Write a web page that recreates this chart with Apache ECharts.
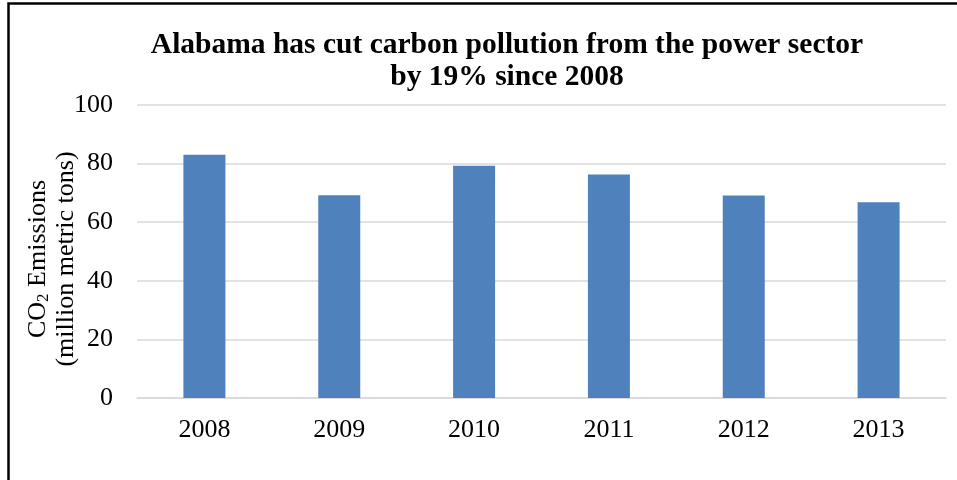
<!DOCTYPE html>
<html>
<head>
<meta charset="utf-8">
<script src="https://cdn.jsdelivr.net/npm/echarts@6/dist/echarts.min.js"></script>
<style>
html,body{margin:0;padding:0;background:#fff;}
#main{width:957px;height:480px;}
</style>
</head>
<body>
<div id="main"></div>
<script>
var categories = ['2008', '2009', '2010', '2011', '2012', '2013'];
var emissions = [83.0, 69.2, 79.3, 76.3, 69.1, 66.8];
var titleLines = ['Alabama has cut carbon pollution from the power sector', 'by 19% since 2008'];

var serif = "'Liberation Serif', 'Times New Roman', serif";
var chart = echarts.init(document.getElementById('main'));
chart.setOption({
  backgroundColor: '#fff',
  animation: false,
  title: {
    text: titleLines.join('\n'),
    left: 502,
    top: 24,
    textAlign: 'center',
    textStyle: {
      fontFamily: serif,
      fontWeight: 'bold',
      fontSize: 29.5,
      lineHeight: 32,
      color: '#000'
    }
  },
  grid: { left: 137, right: 11, top: 105, bottom: 82, containLabel: false },
  xAxis: {
    type: 'category',
    data: categories,
    axisLine: { show: true, lineStyle: { color: '#d9d9d9', width: 1.5 } },
    axisTick: { show: false },
    axisLabel: { fontFamily: serif, fontSize: 26, color: '#000', margin: 19 }
  },
  yAxis: {
    type: 'value',
    min: 0,
    max: 100,
    interval: 20,
    axisLine: { show: false },
    axisTick: { show: false },
    splitLine: { lineStyle: { color: '#d9d9d9', width: 1.5 } },
    axisLabel: { fontFamily: serif, fontSize: 26, color: '#000', margin: 24 }
  },
  series: [{
    type: 'bar',
    data: emissions,
    barWidth: 42,
    itemStyle: { color: '#4F81BD' }
  }],
  graphic: [
    {
      type: 'rect',
      shape: { x: 8.5, y: 3.5, width: 1000, height: 600 },
      style: { fill: 'none', stroke: '#000', lineWidth: 2.5 },
      silent: true
    },
    {
      type: 'text',
      x: 52,
      y: 259,
      rotation: Math.PI / 2,
      style: {
        text: '{a|CO}{s|2}{a| Emissions}\n{a|(million metric tons)}',
        align: 'center',
        verticalAlign: 'middle',
        fill: '#000',
        rich: {
          a: { fontFamily: serif, fontSize: 26, lineHeight: 28, fill: '#000', verticalAlign: 'middle' },
          s: { fontFamily: serif, fontSize: 17, lineHeight: 28, fill: '#000', verticalAlign: 'bottom' }
        }
      }
    }
  ]
});
</script>
</body>
</html>
